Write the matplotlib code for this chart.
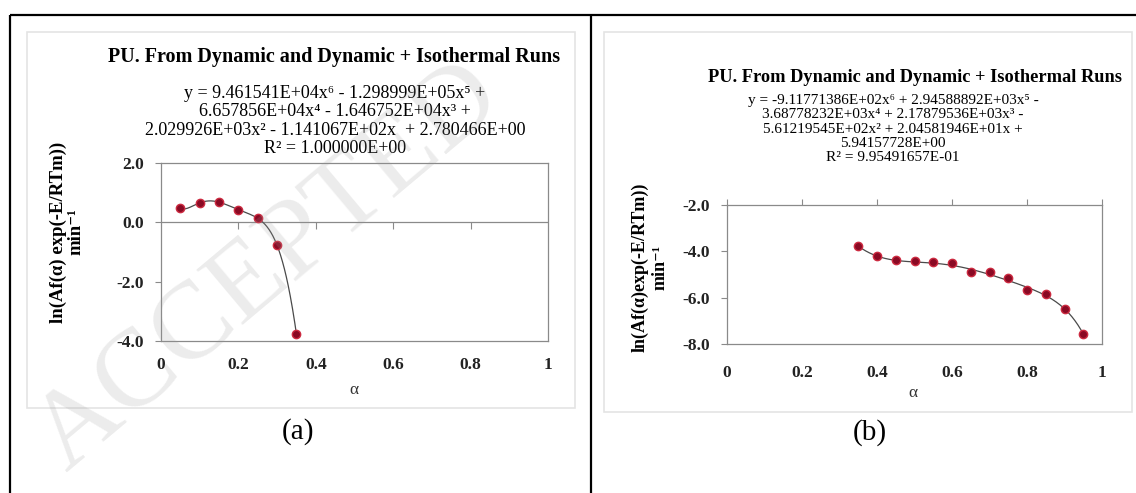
import matplotlib
matplotlib.use("Agg")
import matplotlib.pyplot as plt
import numpy as np
from matplotlib.patches import Rectangle
from matplotlib.lines import Line2D

plt.rcParams['font.family'] = ['Liberation Serif', 'DejaVu Serif']
plt.rcParams['axes.unicode_minus'] = False

W, H = 1136, 493

# ---- data -------------------------------------------------------------
alpha_a = [0.05, 0.10, 0.15, 0.20, 0.25, 0.30, 0.35]
lnk_a = [0.47, 0.66, 0.68, 0.43, 0.14, -0.78, -3.77]
coef_a = [9.461541e4, -1.298999e5, 6.657856e4, -1.646752e4,
          2.029926e3, -1.141067e2, 2.780466e0]

alpha_b = [0.35, 0.40, 0.45, 0.50, 0.55, 0.60, 0.65,
           0.70, 0.75, 0.80, 0.85, 0.90, 0.95]
lnk_b = [-3.77, -4.19, -4.37, -4.42, -4.48, -4.52, -4.88,
         -4.91, -5.17, -5.68, -5.83, -6.49, -7.56]
coef_b = [-9.11771386e2, 2.94588892e3, -3.68778232e3, 2.17879536e3,
          -5.61219545e2, 2.04581946e1, 5.94157728e0]

xticks = [0, 0.2, 0.4, 0.6, 0.8, 1]
xtick_labels = ['0', '0.2', '0.4', '0.6', '0.8', '1']
yticks_a = [2, 0, -2, -4]
ytick_labels_a = ['2.0', '0.0', '-2.0', '-4.0']
yticks_b = [-2, -4, -6, -8]
ytick_labels_b = ['-2.0', '-4.0', '-6.0', '-8.0']

title = 'PU. From Dynamic and Dynamic + Isothermal Runs'
eq_a = ['y = 9.461541E+04x⁶ - 1.298999E+05x⁵ +',
        '6.657856E+04x⁴ - 1.646752E+04x³ +',
        '2.029926E+03x² - 1.141067E+02x  + 2.780466E+00',
        'R² = 1.000000E+00']
eq_b = ['y = -9.11771386E+02x⁶ + 2.94588892E+03x⁵ -',
        '3.68778232E+03x⁴ + 2.17879536E+03x³ -',
        '5.61219545E+02x² + 2.04581946E+01x +',
        '5.94157728E+00',
        'R² = 9.95491657E-01']
ylabel_a = 'ln(Af(α) exp(-E/RTm))\nmin⁻¹'
ylabel_b = 'ln(Af(α)exp(-E/RTm))\nmin⁻¹'
xlabel = 'α'
captions = ['(a)', '(b)']
watermark = 'ACCEPTED'

# ---- helpers ----------------------------------------------------------
def fx(x):
    return x / W

def fy(y):
    return 1 - y / H

SERIF = ['Liberation Serif', 'DejaVu Serif']
SPINE = '#8a8a8a'
MFACE = '#8a0a24'
MEDGE = '#cc2a40'
TICKFS = 12.5

fig = plt.figure(figsize=(W / 100, H / 100), dpi=100)
fig.patch.set_facecolor('white')

# table frame
for seg in [((10, 1136), (15, 15)), ((10, 10), (15, 493)), ((591, 591), (15, 493))]:
    fig.add_artist(Line2D([fx(v) for v in seg[0]], [fy(v) for v in seg[1]],
                          color='black', lw=1.6, solid_capstyle='butt'))

# chart-area outlines
for (x0, y0, x1, y1) in [(27, 32, 575, 408), (604, 32, 1132, 412)]:
    fig.add_artist(Rectangle((fx(x0), fy(y1)), fx(x1 - x0), (y1 - y0) / H,
                             facecolor='none', edgecolor='#e4e4e4', lw=1.2))


def style_axes(ax, yticks, ylabels, ylim):
    ax.set_xlim(0, 1)
    ax.set_ylim(*ylim)
    for sp in ax.spines.values():
        sp.set_color(SPINE)
        sp.set_linewidth(0.9)
    ax.set_xticks(xticks)
    ax.set_xticklabels(xtick_labels, fontsize=TICKFS, fontweight='bold',
                       color='#222222', family=SERIF)
    ax.set_yticks(yticks)
    ax.set_yticklabels(ylabels, fontsize=TICKFS, fontweight='bold',
                       color='#222222', family=SERIF)
    ax.tick_params(axis='y', direction='out', length=4, width=0.8,
                   color=SPINE, pad=8.5)


# ---- panel (a) --------------------------------------------------------
ax_a = fig.add_axes([fx(161), fy(341), (548 - 161) / W, (341 - 163) / H])
style_axes(ax_a, yticks_a, ytick_labels_a, (-4, 2))
ax_a.tick_params(axis='x', length=0, pad=11.5)
ax_a.axhline(0, color=SPINE, lw=0.9, zorder=1)
ax_a.vlines(xticks[1:-1], -0.24, 0, color=SPINE, lw=0.8, zorder=1)
xs_a = np.linspace(min(alpha_a), max(alpha_a), 300)
ax_a.plot(xs_a, np.polyval(coef_a, xs_a), color='#4a4a4a', lw=0.9, zorder=2)
ax_a.plot(alpha_a, lnk_a, 'o', ms=6, mfc=MFACE, mec=MEDGE, mew=1.0, zorder=3)

fig.text(fx(334), fy(57), title, ha='center', va='center',
         fontsize=14.5, fontweight='bold', family=SERIF)
fig.text(fx(335), fy(121), '\n'.join(eq_a), ha='center', va='center',
         multialignment='center', fontsize=13, linespacing=1.1, family=SERIF)
fig.text(fx(67), fy(232), ylabel_a, ha='center', va='center', rotation=90,
         multialignment='center', fontsize=13.5, fontweight='bold',
         linespacing=1.05, family=SERIF)
fig.text(fx(354), fy(390), xlabel, ha='center', va='center',
         fontsize=12.5, family=SERIF, color='#333333')

# ---- panel (b) --------------------------------------------------------
ax_b = fig.add_axes([fx(727), fy(344), (1102 - 727) / W, (344 - 205) / H])
style_axes(ax_b, yticks_b, ytick_labels_b, (-8, -2))
ax_b.tick_params(axis='x', top=True, bottom=False, labeltop=False,
                 labelbottom=True, direction='out', length=4, width=0.8,
                 color=SPINE, pad=11)
xs_b = np.linspace(min(alpha_b), max(alpha_b), 300)
ax_b.plot(xs_b, np.polyval(coef_b, xs_b), color='#4a4a4a', lw=0.9, zorder=2)
ax_b.plot(alpha_b, lnk_b, 'o', ms=6, mfc=MFACE, mec=MEDGE, mew=1.0, zorder=3)

fig.text(fx(915), fy(78), title, ha='center', va='center',
         fontsize=13.2, fontweight='bold', family=SERIF)
fig.text(fx(893), fy(129), '\n'.join(eq_b), ha='center', va='center',
         multialignment='center', fontsize=11, linespacing=1.12, family=SERIF)
fig.text(fx(650), fy(267), ylabel_b, ha='center', va='center', rotation=90,
         multialignment='center', fontsize=13, fontweight='bold',
         linespacing=1.2, family=SERIF)
fig.text(fx(913), fy(393), xlabel, ha='center', va='center',
         fontsize=12.5, family=SERIF, color='#333333')

# captions
fig.text(fx(298), fy(432), captions[0], ha='center', va='center',
         fontsize=21, family=SERIF)
fig.text(fx(870), fy(433), captions[1], ha='center', va='center',
         fontsize=21, family=SERIF)

# diagonal watermark
fig.text(fx(66), fy(472), watermark, ha='left', va='baseline',
         rotation=40, rotation_mode='anchor', fontsize=80, family=SERIF,
         color='#9a9a9a', alpha=0.19, zorder=10)

fig.savefig('out.png', dpi=100)
